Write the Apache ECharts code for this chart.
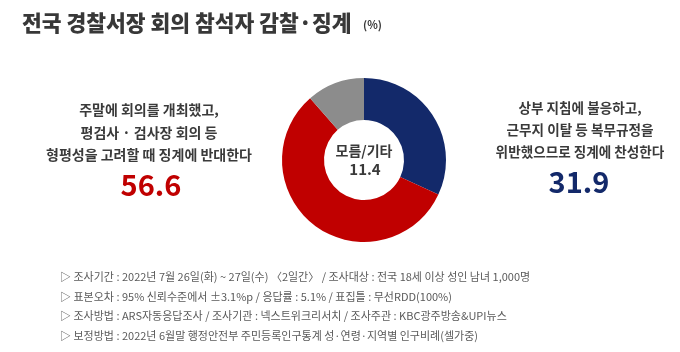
<!DOCTYPE html>
<html><head><meta charset="utf-8">
<script src="https://cdn.jsdelivr.net/npm/echarts@6/dist/echarts.min.js"></script>
<style>html,body{margin:0;padding:0;background:#fff}#c{width:680px;height:352px}</style>
</head><body><div id="c"></div>
<script>
const categories = ['징계 찬성', '징계 반대', '모름/기타'];
const values = [31.9, 56.6, 11.4];
const colors = ['#13296a', '#c00000', '#8c8c8c'];
const leftLines = ['주말에 회의를 개최했고,', '평검사 · 검사장 회의 등', '형평성을 고려할 때 징계에 반대한다'];
const rightLines = ['상부 지침에 불응하고,', '근무지 이탈 등 복무규정을', '위반했으므로 징계에 찬성한다'];
const notes = [
  '▷ 조사기간 : 2022년 7월 26일(화) ~ 27일(수) 〈2일간〉 / 조사대상 : 전국 18세 이상 성인 남녀 1,000명',
  '▷ 표본오차 : 95% 신뢰수준에서 ±3.1%p / 응답률 : 5.1% / 표집틀 : 무선RDD(100%)',
  '▷ 조사방법 : ARS자동응답조사 / 조사기관 : 넥스트위크리서치 / 조사주관 : KBC광주방송&UPI뉴스',
  '▷ 보정방법 : 2022년 6월말 행정안전부 주민등록인구통계 성·연령·지역별 인구비례(셀가중)'
];
const F = '"Noto Sans CJK KR", "Noto Sans", sans-serif';
const chart = echarts.init(document.getElementById('c'));
const g = [];
g.push({type:'text', x:22, y:23, style:{text:'전국 경찰서장 회의 참석자 감찰·징계', font:'900 21.5px '+F, fill:'#383838', verticalAlign:'middle'}});
g.push({type:'text', x:363, y:25, style:{text:'(%)', font:'bold 11px '+F, fill:'#383838', verticalAlign:'middle'}});
leftLines.forEach((t,i)=>g.push({type:'text', x:149, y:110+i*22.5, style:{text:t, font:'bold 14px '+F, fill:'#3a3a3a', align:'center', verticalAlign:'middle'}}));
g.push({type:'text', x:151, y:185, style:{text:String(values[1]), font:'bold 29px '+F, fill:colors[1], align:'center', verticalAlign:'middle'}});
rightLines.forEach((t,i)=>g.push({type:'text', x:580, y:108+i*22, style:{text:t, font:'bold 13.6px '+F, fill:'#3a3a3a', align:'center', verticalAlign:'middle'}}));
g.push({type:'text', x:579, y:182, style:{text:String(values[0]), font:'bold 29px '+F, fill:colors[0], align:'center', verticalAlign:'middle'}});
g.push({type:'text', x:364, y:151, style:{text:categories[2], font:'bold 14px '+F, fill:'#3a3a3a', align:'center', verticalAlign:'middle'}});
g.push({type:'text', x:365, y:169, style:{text:String(values[2]), font:'bold 15px '+F, fill:'#3a3a3a', align:'center', verticalAlign:'middle'}});
notes.forEach((t,i)=>g.push({type:'text', x:60, y:277+i*19.5, style:{text:t, font:'11px '+F, fill:'#5a5a5a', verticalAlign:'middle'}}));
chart.setOption({
  animation:false,
  backgroundColor:'#fff',
  graphic:g,
  series:[{
    type:'pie', center:[364,160], radius:[40,82], startAngle:90, clockwise:true,
    label:{show:false}, labelLine:{show:false}, silent:true,
    data:categories.map((c,i)=>({name:c, value:values[i], itemStyle:{color:colors[i]}}))
  }]
});
</script></body></html>
